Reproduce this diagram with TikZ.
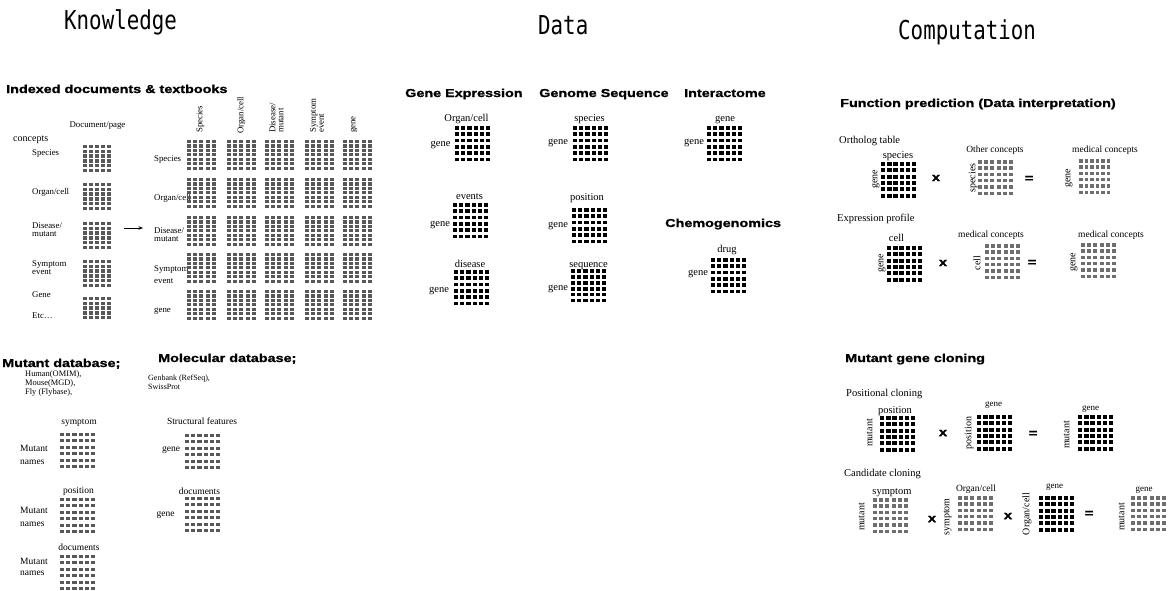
\documentclass[tikz,border=0pt]{standalone}
\usepackage{fontspec}
\setmainfont{Liberation Serif}
\newfontfamily\hdfont{Liberation Sans}[FakeStretch=1.25,BoldFeatures={FakeBold=1.2}]
\newfontfamily\ttlfont{DejaVu Sans Mono}[FakeStretch=0.8]
\usetikzlibrary{arrows.meta}
\definecolor{kgray}{RGB}{88,88,88}
\definecolor{cgray}{RGB}{110,110,110}
% grid of small squares: name, x0,y0 (top-left), cols, rows, pitch x, pitch y, square w, square h, colour
\newcommand\dgrid[9]{%
  \node[inner sep=0pt,outer sep=0pt,minimum width={(#3-1)*#5+#7},minimum height={(#4-1)*#6+#8},anchor=north west] (#1) at (#2) {};
  \foreach \gi in {1,...,#3}{\foreach \gj in {1,...,#4}{%
    \fill[#9] ([shift={({(\gi-1)*#5},{(\gj-1)*#6})}]#1.north west) rectangle ++(#7,#8);}}%
}
\begin{document}
\begin{tikzpicture}[x=1pt,y=-1pt,
  ttl/.style={font=\ttlfont\fontsize{26}{28}\selectfont,inner sep=0pt,anchor=base west},
  hd/.style={font=\hdfont\bfseries\fontsize{11.5}{12}\selectfont,inner sep=0pt,anchor=base west},
  lbl/.style={font=\fontsize{10.5}{11}\selectfont,inner sep=0pt,anchor=mid},
  lbls/.style={font=\fontsize{8.8}{8}\selectfont,inner sep=0pt,anchor=mid west,align=left},
  lblm/.style={font=\fontsize{9.5}{10}\selectfont,inner sep=0pt,anchor=mid},
  rot/.style={font=\fontsize{10}{11}\selectfont,inner sep=0pt,anchor=mid,rotate=90},
  op/.style={font=\hdfont\bfseries\fontsize{12}{12}\selectfont,inner sep=0pt,anchor=center},
  arr/.style={-{Stealth[length=4.5pt,width=3.5pt]},line width=0.7pt}]
\useasboundingbox (0,0) rectangle (1171,590);
\fill[white] (0,0) rectangle (1171,590);

% ---------- titles ----------
\node[ttl] (tK) at (64,29) {Knowledge};
\node[ttl] (tD) at (538,34) {Data};
\node[ttl] (tC) at (898,39) {Computation};

% ---------- Knowledge: indexed documents ----------
\node[hd] (hIdx) at (6,93) {Indexed documents \& textbooks};
\node[lbls,anchor=mid] (docpage) at (97.5,125) {Document/page};
\node[font=\fontsize{10}{11}\selectfont,inner sep=0pt,anchor=mid west] (concepts) at (13,139) {concepts};
\node[lbls] (lSp) at (32,153) {Species};
\node[lbls] (lOr) at (32,192) {Organ/cell};
\node[lbls,anchor=west] (lDi) at (32,230) {Disease/\\mutant};
\node[lbls,anchor=west] (lSy) at (32,268) {Symptom\\event};
\node[lbls] (lGe) at (32,295) {Gene};
\node[lbls] (lEt) at (32,316) {Etc\ldots};
\dgrid{kl1}{83,145}{5}{6}{6}{4.7}{4}{3.4}{kgray}
\dgrid{kl2}{83,183}{5}{6}{6}{4.7}{4}{3.4}{kgray}
\dgrid{kl3}{83,222}{5}{6}{6}{4.7}{4}{3.4}{kgray}
\dgrid{kl4}{83,260}{5}{6}{6}{4.7}{4}{3.4}{kgray}
\dgrid{kl5}{83,297}{5}{5}{6}{4.7}{4}{3.4}{kgray}

\coordinate (arA) at (124,228);
\coordinate (arB) at (143,228);
\draw[arr] (arA) -- (arB);

\node[lbls] (rSp) at (154,159) {Species};
\node[lbls] (rOr) at (154,198) {Organ/cell};
\node[lbls,anchor=west] (rDi) at (154,234.5) {Disease/\\mutant};
\node[lbls,anchor=west,font=\fontsize{8.8}{12.5}\selectfont] (rSy) at (154,274.5) {Symptom\\event};
\node[lbls] (rGe) at (154,310) {gene};

\node[lbls,rotate=90,anchor=mid west] (cSp) at (200,133) {Species};
\node[lbls,rotate=90,anchor=mid west] (cOr) at (241,134) {Organ/cell};
\node[lbls,rotate=90,anchor=west] (cDi) at (276.5,133) {Disease/\\mutant};
\node[lbls,rotate=90,anchor=west] (cSy) at (317,133) {Symptom\\event};
\node[lbls,rotate=90,anchor=mid west] (cGe) at (353,133) {gene};

\foreach \c/\x in {1/187,2/227,3/265,4/305,5/343}{%
  \foreach \r/\y in {1/140,2/178,3/216,4/253,5/290}{%
    \dgrid{kr\r\c}{\x,\y}{5}{7}{6.2}{4.45}{4}{3.1}{kgray}}}

% ---------- Knowledge: databases ----------
\node[hd] (hMut) at (2,367) {Mutant database;};
\node[hd] (hMol) at (158,362) {Molecular database;};
\node[font=\fontsize{8.4}{8.6}\selectfont,inner sep=0pt,anchor=west,align=left] (mutsrc) at (25,383.5) {Human(OMIM),\\Mouse(MGD),\\Fly (Flybase),};
\node[font=\fontsize{8}{8.5}\selectfont,inner sep=0pt,anchor=west,align=left] (molsrc) at (148,382) {Genbank (RefSeq),\\SwissProt};

\node[lblm] (mSy) at (79,422) {symptom};
\dgrid{mg1}{60,433}{6}{6}{6.2}{6.4}{4.2}{3}{kgray}
\node[lblm,anchor=west,align=left,font=\fontsize{9.5}{13.5}\selectfont] (mN1) at (20,455) {Mutant\\names};
\node[lblm] (mPo) at (78.5,491) {position};
\dgrid{mg2}{60,498}{6}{6}{6.2}{6.4}{4.2}{3}{kgray}
\node[lblm,anchor=west,align=left,font=\fontsize{9.5}{13}\selectfont] (mN2) at (20,517) {Mutant\\names};
\node[lblm] (mDo) at (79,548) {documents};
\dgrid{mg3}{60,555}{6}{6}{6.2}{6.4}{4.2}{3}{kgray}
\node[lblm,anchor=west,align=left,font=\fontsize{9.5}{11}\selectfont] (mN3) at (20,567) {Mutant\\names};

\node[lblm] (oSt) at (202,422) {Structural features};
\dgrid{og1}{185,434}{6}{6}{6.2}{6.4}{4.2}{3}{kgray}
\node[lblm] (oG1) at (171,449) {gene};
\node[lblm] (oDo) at (199.5,492) {documents};
\dgrid{og2}{185,497}{6}{6}{6.2}{6.4}{4.2}{3}{kgray}
\node[lblm] (oG2) at (165.5,514) {gene};

% ---------- Data ----------
\node[hd] (hGE) at (405,97) {Gene Expression};
\node[hd] (hGS) at (539,97) {Genome Sequence};
\node[hd] (hIn) at (684,97) {Interactome};
\node[hd] (hCh) at (665,227) {Chemogenomics};

\node[lbl] (dOr) at (466.5,119) {Organ/cell};
\dgrid{ge1}{455,126}{6}{6}{6.2}{6.3}{4.2}{3.8}{black}
\node[lbl] (dG1) at (440.5,144) {gene};
\node[lbl] (dEv) at (469.5,197) {events};
\dgrid{ge2}{453,203}{6}{6}{6.2}{6.3}{4.2}{3.8}{black}
\node[lbl] (dG2) at (440,224) {gene};
\node[lbl] (dDi) at (470,265) {disease};
\dgrid{ge3}{454,270}{6}{6}{6.2}{6.3}{4.2}{3.8}{black}
\node[lbl] (dG3) at (439,290) {gene};

\node[lbl] (dSp) at (589.5,119) {species};
\dgrid{gs1}{573,126}{6}{6}{6.2}{6.3}{4.2}{3.8}{black}
\node[lbl] (dG4) at (558,142) {gene};
\node[lbl] (dPo) at (587,198) {position};
\dgrid{gs2}{572,208}{6}{6}{6.2}{6.3}{4.2}{3.8}{black}
\node[lbl] (dG5) at (558,225) {gene};
\node[lbl] (dSe) at (588.5,265) {sequence};
\dgrid{gs3}{571,269}{6}{6}{6.2}{5.9}{4.2}{3.8}{black}
\node[lbl] (dG6) at (558,288) {gene};

\node[lbl] (dGt) at (725,119) {gene};
\dgrid{in1}{707,126}{6}{6}{6.2}{6.3}{4.2}{3.8}{black}
\node[lbl] (dG7) at (694,142) {gene};
\node[lbl] (dDr) at (727,250) {drug};
\dgrid{ch1}{711,258}{6}{6}{6.2}{6.3}{4.2}{3.8}{black}
\node[lbl] (dG8) at (698,273) {gene};

% ---------- Computation: function prediction ----------
\node[hd] (hFP) at (840,107) {Function prediction (Data interpretation)};
\node[lbl,anchor=mid west] (ort) at (839,141) {Ortholog table};
\node[lbl] (c1t) at (898,156) {species};
\dgrid{c1}{881,162}{6}{6}{6.2}{6.3}{4.4}{4}{black}
\node[rot] (c1l) at (875,179) {gene};
\node[op] (x1) at (936,178) {x};
\node[lblm] (c2t) at (995,150) {Other concepts};
\dgrid{c2}{978,160}{6}{6}{6.2}{6.3}{4}{3.5}{cgray}
\node[rot] (c2l) at (973,178) {species};
\node[op] (e1) at (1029,179) {=};
\node[lblm] (c3t) at (1105,150) {medical concepts};
\dgrid{c3}{1079,159}{6}{6}{5.5}{6.3}{3.8}{3.5}{cgray}
\node[rot] (c3l) at (1068,178) {gene};

\node[lbl,anchor=mid west] (exp) at (837,219) {Expression profile};
\node[lbl] (c4t) at (896.5,239) {cell};
\dgrid{c4}{887,246}{6}{6}{6.2}{6.3}{4.4}{4}{black}
\node[rot] (c4l) at (881,263) {gene};
\node[op] (x2) at (943,263) {x};
\node[lblm] (c5t) at (991,235) {medical concepts};
\dgrid{c5}{985,244}{6}{6}{6.2}{6.3}{4}{3.5}{cgray}
\node[rot] (c5l) at (978,263) {cell};
\node[op] (e2) at (1032,263) {=};
\node[lblm] (c6t) at (1111,235) {medical concepts};
\dgrid{c6}{1081,243}{6}{6}{6.2}{6.3}{4}{3.5}{cgray}
\node[rot] (c6l) at (1073,262) {gene};

% ---------- Computation: mutant gene cloning ----------
\node[hd] (hMG) at (845,362) {Mutant gene cloning};
\node[lbl,anchor=mid west] (pos) at (846,394) {Positional cloning};
\node[lbl] (p1t) at (895,411) {position};
\dgrid{p1}{880,416}{6}{6}{6.2}{6.3}{4.4}{4}{black}
\node[rot] (p1l) at (870,433) {mutant};
\node[op] (x3) at (943,433) {x};
\node[lblm,font=\fontsize{9}{10}\selectfont] (p2t) at (993.5,404) {gene};
\dgrid{p2}{977,415}{6}{6}{6.2}{6.3}{4.4}{4}{black}
\node[rot] (p2l) at (969,433) {position};
\node[op] (e3) at (1033,434) {=};
\node[lblm,font=\fontsize{9}{10}\selectfont] (p3t) at (1090.5,408) {gene};
\dgrid{p3}{1078,415}{6}{6}{6.2}{6.3}{4.4}{4}{black}
\node[rot] (p3l) at (1067,435) {mutant};

\node[lbl,anchor=mid west] (cand) at (844,474) {Candidate cloning};
\node[lbl] (q1t) at (892,492) {symptom};
\dgrid{q1}{873,498}{6}{6}{6.2}{6.3}{4}{3.5}{cgray}
\node[rot] (q1l) at (862,517) {mutant};
\node[op] (x4) at (932,519) {x};
\node[lblm] (q2t) at (976,489) {Organ/cell};
\dgrid{q2}{958,496}{6}{6}{6.2}{6.3}{4}{3.5}{cgray}
\node[rot] (q2l) at (947,517) {symptom};
\node[op] (x5) at (1008,516) {x};
\node[lblm,font=\fontsize{9}{10}\selectfont] (q3t) at (1054.5,486) {gene};
\dgrid{q3}{1039,496}{6}{6}{6.2}{6.3}{4.4}{4}{black}
\node[rot] (q3l) at (1027,514) {Organ/cell};
\node[op] (e4) at (1089,514) {=};
\node[lblm,font=\fontsize{9}{10}\selectfont] (q4t) at (1144,489) {gene};
\dgrid{q4}{1131,496}{6}{6}{6.2}{6.3}{4}{3.5}{cgray}
\node[rot] (q4l) at (1122,517) {mutant};
\end{tikzpicture}
\end{document}
